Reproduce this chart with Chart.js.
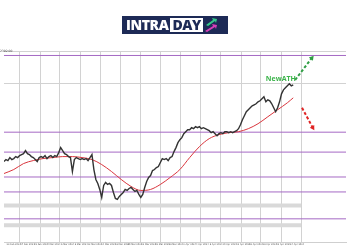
<!DOCTYPE html>
<html>
<head>
<meta charset="utf-8">
<script src="https://cdn.jsdelivr.net/npm/chart.js@4.4.0/dist/chart.umd.min.js"></script>
<style>
  html, body { margin: 0; padding: 0; background: #fff; }
  #wrap { position: relative; width: 350px; height: 250px; }
  #logo { position: absolute; left: 122px; top: 16px; width: 106px; height: 18px; background: #1d2a56;
          display: flex; align-items: center; font-family: "Open Sans", sans-serif; font-weight: 800;
          font-size: 14px; letter-spacing: -0.4px; line-height: 14px; }
  #logo .a { color: #fff; padding-left: 4px; }
  #logo .b { color: #1d2a56; background: #fff; padding: 0 2px; margin-left: 2px; height: 14px; }
  #logo svg { margin-left: 2px; }
  #tag { position: absolute; left: 0; top: 49px; font: 3px "DejaVu Sans", sans-serif; color: #444; }
</style>
</head>
<body>
<div id="wrap">
  <canvas id="myChart"></canvas>
  <div id="logo"><span class="a">INTRA</span><span class="b">DAY</span>
    <svg width="12" height="14" viewBox="0 0 12 14">
      <polygon points="1,7 8,2 7,0 12,1 11,5 10,3 3,8" fill="#35c98a"/>
      <polygon points="0,13 8,8 7,6 12,7 11,11 10,9 2,14" fill="#d63fb8"/>
    </svg>
  </div>
  <div id="tag">2392.00</div>
</div>
<script>
// price closes, one value every 2 bars
const barStep = 2;
const closes = [
  2281, 2283, 2282, 2285, 2283, 2284, 2286, 2285, 2287, 2288,
  2289, 2292, 2289, 2288, 2286, 2285, 2283, 2281, 2285, 2286,
  2285, 2287, 2284, 2286, 2287, 2285, 2287, 2286, 2290, 2295,
  2292, 2289, 2288, 2286, 2285, 2271, 2283, 2285, 2284, 2283,
  2284, 2283, 2284, 2282, 2285, 2288, 2273, 2263, 2259, 2253,
  2245, 2257, 2260, 2258, 2259, 2257, 2250, 2244, 2243, 2246,
  2248, 2250, 2253, 2252, 2254, 2255, 2253, 2251, 2252, 2248,
  2245, 2248, 2255, 2261, 2265, 2267, 2272, 2273, 2275, 2276,
  2280, 2284, 2283, 2284, 2282, 2285, 2286, 2291, 2295, 2300,
  2303, 2305, 2309, 2311, 2313, 2313, 2315, 2314, 2316, 2315,
  2316, 2314, 2315, 2314, 2313, 2312, 2310, 2311, 2309, 2307,
  2309, 2310, 2309, 2311, 2311, 2310, 2311, 2310, 2311, 2312,
  2314, 2318, 2323, 2327, 2331, 2333, 2335, 2337, 2338, 2339,
  2341, 2342, 2344, 2346, 2341, 2343, 2342, 2339, 2335, 2331,
  2335, 2341, 2349, 2353, 2355, 2357, 2359, 2357, 2358
];

// moving average
const maBars = [0, 10, 20, 30, 40, 50, 60, 70, 80, 90, 100, 110, 120, 130, 140, 150,
  160, 170, 180, 190, 200, 210, 220, 230, 240, 250, 260, 270, 280, 290, 296];
const maValues = [2269, 2273, 2279, 2282, 2284, 2285, 2286, 2286, 2285, 2283, 2278, 2271,
  2263, 2256, 2252, 2253, 2258, 2265, 2273, 2285, 2296, 2304, 2308, 2310, 2311, 2314,
  2319, 2326, 2333, 2340, 2345];

// horizontal levels and zones
const levels = [2387.5, 2310.5, 2290.5, 2265.5, 2250.5, 2223.5];
const zones = [[2239, 2235], [2219, 2215]];
const zoneEnd = 304;

// projections
const upArrow = [[298, 2363], [315, 2385]];
const downArrow = [[305, 2335], [316, 2315]];
const athLabel = 'NewATH';
const athPos = [268, 2364];

// axes
const gridBars = [16, 37, 57, 78, 99, 119, 140, 160, 181, 201, 222, 243, 263, 284, 304];
const labelBars = [10, 24, 38, 51, 65, 79, 93, 107, 121, 134, 148, 162, 176, 190, 203,
  217, 231, 245, 258, 272, 286, 300];
const timeLabels = ['23 Feb 2024', '27 Feb 2024', '29 Feb 2024', '4 Mar 2024', '6 Mar 2024',
  '8 Mar 2024', '12 Mar 2024', '14 Mar 2024', '18 Mar 2024', '20 Mar 2024', '22 Mar 2024',
  '26 Mar 2024', '28 Mar 2024', '2 Apr 2024', '4 Apr 2024', '8 Apr 2024', '10 Apr 2024',
  '12 Apr 2024', '16 Apr 2024', '18 Apr 2024', '22 Apr 2024', '24 Apr 2024'];
const yGrid = [2359, 2392];

const datasets = [];

datasets.push({
  data: closes.map((v, i) => ({ x: i * barStep, y: v })),
  borderColor: '#333', borderWidth: 1.4, pointRadius: 0, order: 0
});
datasets.push({
  data: maBars.map((b, i) => ({ x: b, y: maValues[i] })),
  borderColor: '#d9363e', borderWidth: 1, pointRadius: 0, tension: 0.4,
  cubicInterpolationMode: 'monotone', order: 1
});
levels.forEach(v => {
  datasets.push({
    data: [{ x: 0, y: v }, { x: 350, y: v }],
    borderColor: '#a569c4', borderWidth: 1, pointRadius: 0, order: 5
  });
});
zones.forEach(z => {
  datasets.push({
    data: [{ x: 0, y: z[0] }, { x: zoneEnd, y: z[0] }],
    borderColor: 'rgba(0,0,0,0)', borderWidth: 1, pointRadius: 0, order: 10
  });
  datasets.push({
    data: [{ x: 0, y: z[1] }, { x: zoneEnd, y: z[1] }],
    borderColor: 'rgba(0,0,0,0)', borderWidth: 1, pointRadius: 0,
    fill: '-1', backgroundColor: '#d9d9d9', order: 10
  });
});
[[upArrow, '#2f9e44', 39], [downArrow, '#e02424', 149]].forEach(a => {
  datasets.push({
    data: a[0].map(p => ({ x: p[0], y: p[1] })),
    borderColor: a[1], backgroundColor: a[1], borderWidth: 2, borderDash: [3, 2],
    pointStyle: 'triangle', pointRadius: [0, 3], pointRotation: [0, a[2]],
    pointBorderWidth: 0, order: 0
  });
});

const textPlugin = {
  id: 'athText',
  afterDatasetsDraw(chart) {
    const c = chart.ctx;
    c.save();
    c.font = 'bold 7px "Open Sans", sans-serif';
    c.fillStyle = '#3cb44b';
    c.textAlign = 'left';
    c.textBaseline = 'middle';
    c.fillText(athLabel, chart.scales.x.getPixelForValue(athPos[0]), chart.scales.y.getPixelForValue(athPos[1]));
    c.restore();
  }
};

const ctx = document.getElementById('myChart').getContext('2d');
const myChart = new Chart(ctx, {
  type: 'line',
  data: { datasets: datasets },
  plugins: [textPlugin],
  options: {
    responsive: true,
    maintainAspectRatio: false,
    animation: false,
    layout: { padding: { top: 51, bottom: 3, left: 0, right: 0 } },
    plugins: { legend: { display: false }, tooltip: { enabled: false } },
    scales: {
      x: {
        type: 'linear', min: 0, max: 350, position: 'bottom',
        afterBuildTicks: s => { s.ticks = gridBars.map(v => ({ value: v })); },
        ticks: { display: false },
        grid: { color: '#d2d2d2', lineWidth: 1, drawTicks: false },
        border: { display: true, color: '#cfcfcf' }
      },
      xt: {
        type: 'linear', min: 0, max: 350, position: 'bottom',
        afterBuildTicks: s => { s.ticks = labelBars.map(v => ({ value: v })); },
        ticks: {
          autoSkip: false, maxRotation: 0, padding: 1, color: '#555',
          font: { size: 2.3, family: 'DejaVu Sans' },
          callback: (v, i) => timeLabels[i]
        },
        grid: { display: false, drawTicks: false },
        border: { display: false }
      },
      y: {
        min: 2200, max: 2392,
        afterBuildTicks: s => { s.ticks = yGrid.map(v => ({ value: v })); },
        ticks: { display: false },
        grid: { color: '#d2d2d2', drawTicks: false },
        border: { display: false }
      }
    }
  }
});
</script>
</body>
</html>
